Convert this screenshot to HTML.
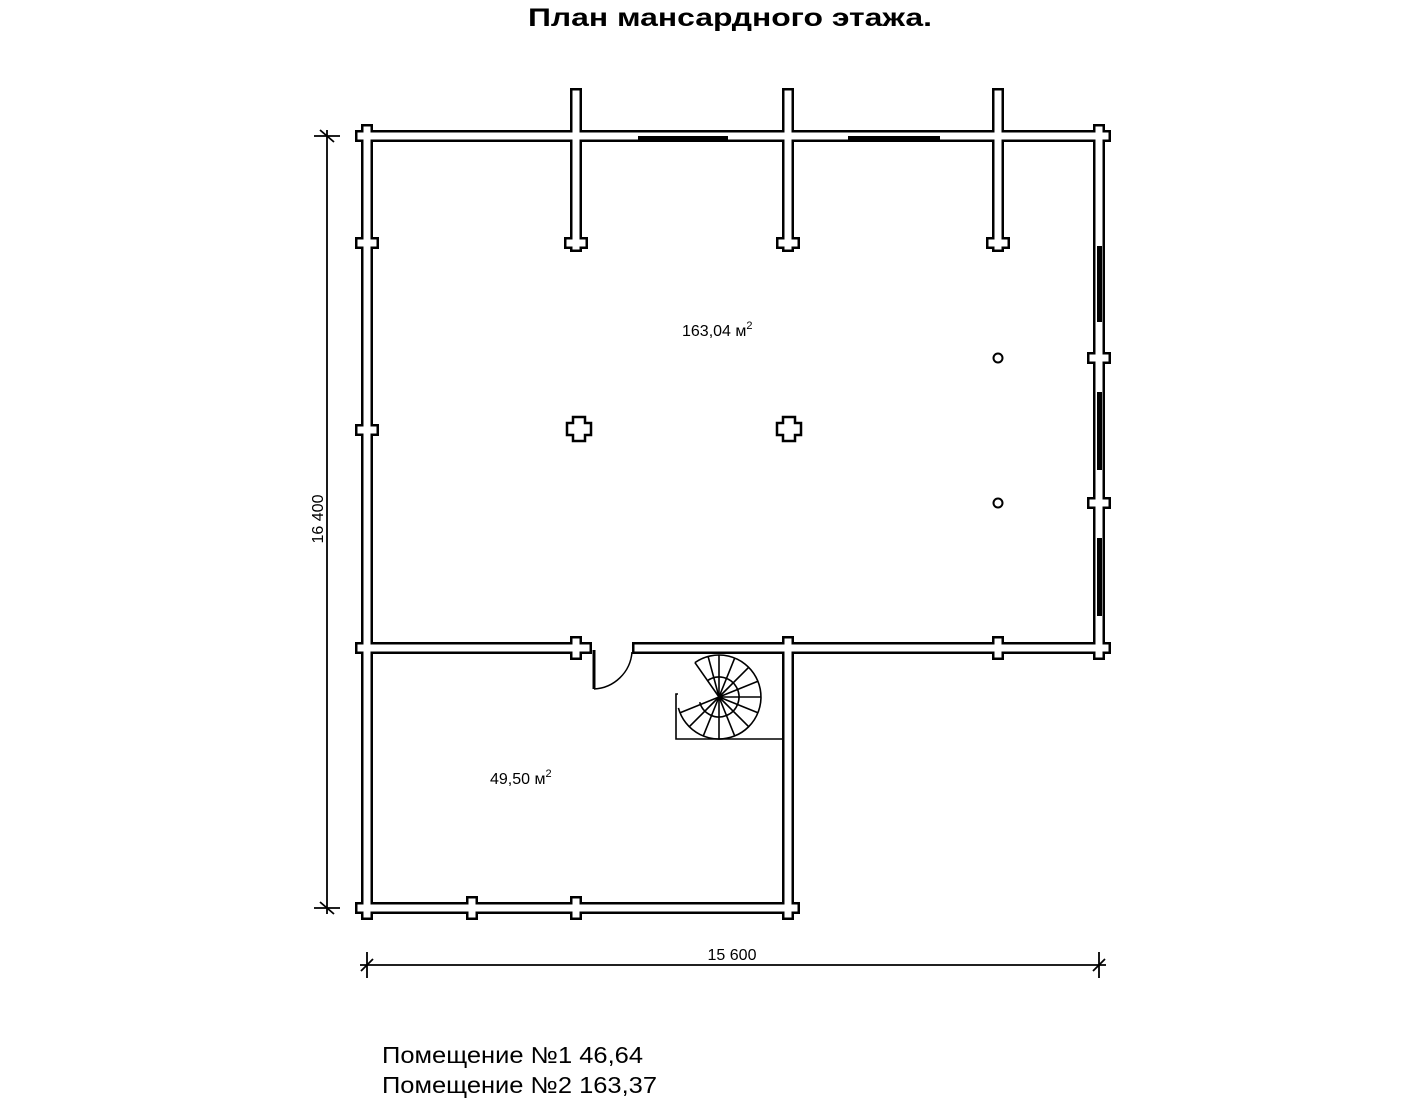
<!DOCTYPE html>
<html><head><meta charset="utf-8"><style>
html,body{margin:0;padding:0;background:#fff;width:1422px;height:1100px;overflow:hidden}
svg{display:block}
text{font-family:"Liberation Sans",sans-serif}
</style></head><body>
<svg width="1422" height="1100" viewBox="0 0 1422 1100" xmlns="http://www.w3.org/2000/svg">
<text x="730" y="26" font-size="25" font-weight="bold" text-anchor="middle" textLength="404" lengthAdjust="spacingAndGlyphs">План мансардного этажа.</text>

<g stroke="#000" stroke-width="12" fill="none" stroke-linecap="butt">
<line x1="367" y1="136" x2="1099" y2="136"/>
<line x1="367" y1="136" x2="367" y2="908"/>
<line x1="1099" y1="136" x2="1099" y2="648"/>
<line x1="367" y1="648" x2="592" y2="648"/>
<line x1="632" y1="648" x2="1099" y2="648"/>
<line x1="788" y1="648" x2="788" y2="908"/>
<line x1="367" y1="908" x2="788" y2="908"/>
<line x1="576" y1="88" x2="576" y2="252"/>
<line x1="788" y1="88" x2="788" y2="252"/>
<line x1="998" y1="88" x2="998" y2="252"/>
<line x1="355" y1="136" x2="379" y2="136"/>
<line x1="355" y1="243" x2="379" y2="243"/>
<line x1="355" y1="430" x2="379" y2="430"/>
<line x1="355" y1="648" x2="379" y2="648"/>
<line x1="355" y1="908" x2="379" y2="908"/>
<line x1="564" y1="243" x2="588" y2="243"/>
<line x1="776" y1="243" x2="800" y2="243"/>
<line x1="986" y1="243" x2="1010" y2="243"/>
<line x1="1087" y1="136" x2="1111" y2="136"/>
<line x1="1087" y1="358" x2="1111" y2="358"/>
<line x1="1087" y1="503" x2="1111" y2="503"/>
<line x1="1087" y1="648" x2="1111" y2="648"/>
<line x1="776" y1="908" x2="800" y2="908"/>
<line x1="367" y1="124" x2="367" y2="148"/>
<line x1="1099" y1="124" x2="1099" y2="148"/>
<line x1="576" y1="636" x2="576" y2="660"/>
<line x1="788" y1="636" x2="788" y2="660"/>
<line x1="998" y1="636" x2="998" y2="660"/>
<line x1="1099" y1="636" x2="1099" y2="660"/>
<line x1="472" y1="896" x2="472" y2="920"/>
<line x1="576" y1="896" x2="576" y2="920"/>
<line x1="788" y1="896" x2="788" y2="920"/>
<line x1="367" y1="896" x2="367" y2="920"/>
</g>
<g stroke="#fff" stroke-width="7" fill="none" stroke-linecap="butt">
<line x1="369.5" y1="136" x2="1096.5" y2="136"/>
<line x1="367" y1="138.5" x2="367" y2="905.5"/>
<line x1="1099" y1="138.5" x2="1099" y2="645.5"/>
<line x1="369.5" y1="648" x2="589.5" y2="648"/>
<line x1="634.5" y1="648" x2="1096.5" y2="648"/>
<line x1="788" y1="650.5" x2="788" y2="905.5"/>
<line x1="369.5" y1="908" x2="785.5" y2="908"/>
<line x1="576" y1="90.5" x2="576" y2="249.5"/>
<line x1="788" y1="90.5" x2="788" y2="249.5"/>
<line x1="998" y1="90.5" x2="998" y2="249.5"/>
<line x1="357.5" y1="136" x2="376.5" y2="136"/>
<line x1="357.5" y1="243" x2="376.5" y2="243"/>
<line x1="357.5" y1="430" x2="376.5" y2="430"/>
<line x1="357.5" y1="648" x2="376.5" y2="648"/>
<line x1="357.5" y1="908" x2="376.5" y2="908"/>
<line x1="566.5" y1="243" x2="585.5" y2="243"/>
<line x1="778.5" y1="243" x2="797.5" y2="243"/>
<line x1="988.5" y1="243" x2="1007.5" y2="243"/>
<line x1="1089.5" y1="136" x2="1108.5" y2="136"/>
<line x1="1089.5" y1="358" x2="1108.5" y2="358"/>
<line x1="1089.5" y1="503" x2="1108.5" y2="503"/>
<line x1="1089.5" y1="648" x2="1108.5" y2="648"/>
<line x1="778.5" y1="908" x2="797.5" y2="908"/>
<line x1="367" y1="126.5" x2="367" y2="145.5"/>
<line x1="1099" y1="126.5" x2="1099" y2="145.5"/>
<line x1="576" y1="638.5" x2="576" y2="657.5"/>
<line x1="788" y1="638.5" x2="788" y2="657.5"/>
<line x1="998" y1="638.5" x2="998" y2="657.5"/>
<line x1="1099" y1="638.5" x2="1099" y2="657.5"/>
<line x1="472" y1="898.5" x2="472" y2="917.5"/>
<line x1="576" y1="898.5" x2="576" y2="917.5"/>
<line x1="788" y1="898.5" x2="788" y2="917.5"/>
<line x1="367" y1="898.5" x2="367" y2="917.5"/>
</g>
<rect x="638" y="136" width="90" height="5" fill="#000"/>
<rect x="848" y="136" width="92" height="5" fill="#000"/>
<rect x="1097" y="246" width="5" height="76" fill="#000"/>
<rect x="1097" y="392" width="5" height="78" fill="#000"/>
<rect x="1097" y="538" width="5" height="78" fill="#000"/>

<g fill="#fff" stroke="#000" stroke-width="2.5">
<path d="M573,417 h12 v6 h6 v12 h-6 v6 h-12 v-6 h-6 v-12 h6 z"/>
<path d="M783,417 h12 v6 h6 v12 h-6 v6 h-12 v-6 h-6 v-12 h6 z"/>
<circle cx="998" cy="358" r="4.5" stroke-width="2"/>
<circle cx="998" cy="503" r="4.5" stroke-width="2"/>
</g>

<line x1="594" y1="650" x2="594" y2="689" stroke="#000" stroke-width="3"/>
<path d="M594,689 A40,40 0 0 0 632,652" stroke="#000" stroke-width="1.5" fill="none"/>

<g stroke="#000" stroke-width="1.6" fill="none">
<polyline points="678,694 676,694 676,739 783,739"/>
<path d="M694.9,662.6 A42,42 0 1 1 678.4,707.9"/>
<path d="M707.5,680.6 A20,20 0 1 1 699.7,702.2"/>
<line x1="719" y1="697" x2="694.9" y2="662.6"/>
<line x1="719" y1="697" x2="708.1" y2="656.4"/>
<line x1="719" y1="697" x2="719" y2="655"/>
<line x1="719" y1="697" x2="734.7" y2="658.1"/>
<line x1="719" y1="697" x2="748.7" y2="667.3"/>
<line x1="719" y1="697" x2="757.9" y2="681.3"/>
<line x1="719" y1="697" x2="761" y2="697"/>
<line x1="719" y1="697" x2="757.9" y2="712.7"/>
<line x1="719" y1="697" x2="748.7" y2="726.7"/>
<line x1="719" y1="697" x2="734.7" y2="735.9"/>
<line x1="719" y1="697" x2="719" y2="739"/>
<line x1="719" y1="697" x2="703.3" y2="735.9"/>
<line x1="719" y1="697" x2="689.3" y2="726.7"/>
<line x1="719" y1="697" x2="680.1" y2="712.7"/>
</g>

<text x="682" y="336" font-size="16">163,04 м<tspan dy="-7" font-size="11">2</tspan></text>
<text x="490" y="784" font-size="16">49,50 м<tspan dy="-7" font-size="11">2</tspan></text>

<g stroke="#000" stroke-width="1.8">
<line x1="327" y1="130" x2="327" y2="914"/>
<line x1="314" y1="136" x2="340" y2="136"/>
<line x1="320" y1="130" x2="334" y2="142"/>
<line x1="314" y1="908" x2="340" y2="908"/>
<line x1="320" y1="902" x2="334" y2="914"/>
<line x1="360" y1="965" x2="1106" y2="965"/>
<line x1="367" y1="952" x2="367" y2="978"/>
<line x1="361" y1="971" x2="373" y2="959"/>
<line x1="1099" y1="952" x2="1099" y2="978"/>
<line x1="1093" y1="971" x2="1105" y2="959"/>
</g>
<text x="732" y="960" font-size="16" text-anchor="middle">15 600</text>
<text transform="translate(323,519) rotate(-90)" font-size="16" text-anchor="middle">16 400</text>

<text x="382" y="1063" font-size="23" textLength="261" lengthAdjust="spacingAndGlyphs">Помещение №1 46,64</text>
<text x="382" y="1093" font-size="23" textLength="275" lengthAdjust="spacingAndGlyphs">Помещение №2 163,37</text>
</svg>
</body></html>
